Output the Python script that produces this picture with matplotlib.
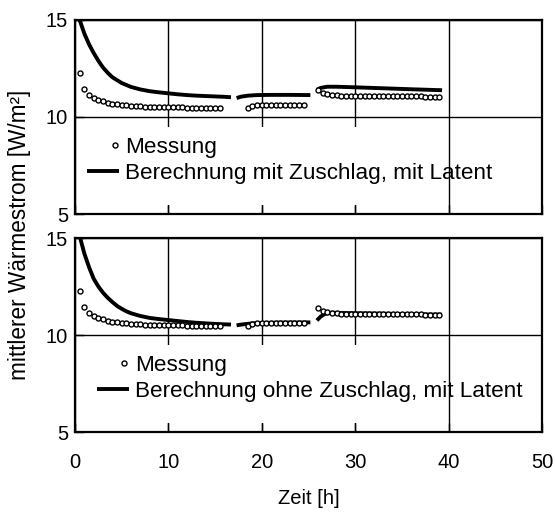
import matplotlib
matplotlib.use("Agg")
import matplotlib.pyplot as plt
from matplotlib.legend_handler import HandlerLine2D
from matplotlib.patches import Rectangle

plt.rcParams['font.family'] = ['Liberation Sans', 'DejaVu Sans']

# Messung (same measurement in both panels), three segments
mess_t1 = [0.5, 1.0, 1.5, 2.0, 2.5, 3.0, 3.5, 4.0, 4.5, 5.0, 5.5, 6.0, 6.5, 7.0, 7.5, 8.0,
           8.5, 9.0, 9.5, 10.0, 10.5, 11.0, 11.5, 12.0, 12.5, 13.0, 13.5, 14.0, 14.5, 15.0, 15.5]
mess_y1 = [12.25, 11.45, 11.15, 10.98, 10.88, 10.80, 10.74, 10.69, 10.65, 10.62, 10.60, 10.58,
           10.56, 10.55, 10.54, 10.53, 10.52, 10.51, 10.51, 10.50, 10.50, 10.49, 10.49, 10.48,
           10.48, 10.47, 10.47, 10.47, 10.46, 10.46, 10.46]
mess_t2 = [18.5, 19.0, 19.5, 20.0, 20.5, 21.0, 21.5, 22.0, 22.5, 23.0, 23.5, 24.0, 24.5]
mess_y2 = [10.48, 10.55, 10.60, 10.62, 10.63, 10.64, 10.64, 10.64, 10.64, 10.64, 10.64, 10.64, 10.64]
mess_t3 = [26.0, 26.5, 27.0, 27.5, 28.0, 28.5, 29.0, 29.5, 30.0, 30.5, 31.0, 31.5, 32.0, 32.5,
           33.0, 33.5, 34.0, 34.5, 35.0, 35.5, 36.0, 36.5, 37.0, 37.5, 38.0, 38.5, 39.0]
mess_y3 = [11.40, 11.25, 11.17, 11.13, 11.11, 11.10, 11.10, 11.10, 11.09, 11.09, 11.09, 11.08,
           11.08, 11.08, 11.08, 11.07, 11.07, 11.07, 11.07, 11.06, 11.06, 11.06, 11.06, 11.05,
           11.05, 11.05, 11.05]

# Berechnung mit Zuschlag, mit Latent (top)
mit_t1 = [0.3, 0.5, 1.0, 1.5, 2.0, 2.5, 3.0, 3.5, 4.0, 5.0, 6.0, 7.0, 8.0, 9.0, 10.0, 11.0,
          12.0, 13.0, 14.0, 15.0, 16.0, 16.7]
mit_y1 = [15.4, 15.0, 14.3, 13.75, 13.3, 12.9, 12.55, 12.28, 12.05, 11.75, 11.55, 11.42, 11.33,
          11.27, 11.22, 11.17, 11.13, 11.10, 11.08, 11.06, 11.04, 11.02]
mit_t2 = [17.3, 17.8, 18.5, 19.5, 21.0, 23.0, 25.2]
mit_y2 = [10.98, 11.05, 11.10, 11.13, 11.14, 11.14, 11.13]
mit_t3 = [25.9, 26.3, 27.0, 28.0, 30.0, 33.0, 36.0, 39.3]
mit_y3 = [11.40, 11.50, 11.56, 11.56, 11.53, 11.48, 11.43, 11.38]

# Berechnung ohne Zuschlag, mit Latent (bottom)
ohne_t1 = [0.4, 0.5, 1.0, 1.5, 2.0, 2.5, 3.0, 3.5, 4.0, 4.5, 5.0, 5.5, 6.0, 7.0, 8.0, 9.0,
           10.0, 11.0, 12.0, 13.0, 14.0, 15.0, 16.0, 16.7]
ohne_y1 = [15.3, 15.1, 14.2, 13.5, 12.9, 12.5, 12.18, 11.92, 11.70, 11.50, 11.35, 11.22, 11.12,
           10.98, 10.88, 10.82, 10.77, 10.72, 10.67, 10.63, 10.60, 10.57, 10.55, 10.54]
ohne_t2 = [17.3, 18.0, 19.0, 20.0, 22.0, 25.2]
ohne_y2 = [10.50, 10.55, 10.60, 10.62, 10.64, 10.65]
ohne_t3 = [25.9, 26.3, 26.8, 27.5, 29.0, 33.0, 36.0, 39.3]
ohne_y3 = [10.75, 10.95, 11.10, 11.15, 11.13, 11.10, 11.07, 11.05]

W, H = 556, 515
fig = plt.figure(figsize=(W / 100, H / 100), dpi=100)
ax_top = fig.add_axes([75 / W, 1 - 214 / H, 467 / W, 194 / H])
ax_bot = fig.add_axes([75 / W, 1 - 432 / H, 467 / W, 194 / H])

panels = [
    (ax_top, [(mit_t1, mit_y1), (mit_t2, mit_y2), (mit_t3, mit_y3)],
     'Berechnung mit Zuschlag, mit Latent', 0.017),
    (ax_bot, [(ohne_t1, ohne_y1), (ohne_t2, ohne_y2), (ohne_t3, ohne_y3)],
     'Berechnung ohne Zuschlag, mit Latent', 0.038),
]

for ax, calc, label, lx in panels:
    line = None
    for t, y in calc:
        line, = ax.plot(t, y, color='black', lw=2.8, solid_capstyle='butt', zorder=3)
    pts = None
    for t, y in [(mess_t1, mess_y1), (mess_t2, mess_y2), (mess_t3, mess_y3)]:
        pts, = ax.plot(t, y, ls='none', marker='o', ms=3.6, mfc='white', mec='black',
                       mew=1.0, zorder=4)
    ax.set_xlim(0, 50)
    ax.set_ylim(5, 15)
    ax.set_xticks([0, 10, 20, 30, 40, 50])
    ax.set_yticks([5, 10, 15])
    ax.grid(True, color='black', lw=1.0, zorder=1)
    ax.set_axisbelow(True)
    ax.tick_params(direction='in', length=6.5, width=1.0, labelsize=14.5, pad=5,
                   top=False, right=False)
    ax.tick_params(axis='x', pad=15)
    for s in ax.spines.values():
        s.set_linewidth(1.6)
    # white background behind the legend, covering the grid
    ax.add_patch(Rectangle((0.004, 0.046), 0.70, 0.40, transform=ax.transAxes,
                           facecolor='white', edgecolor='none', zorder=1.5))
    leg = ax.legend([pts, line], ['Messung', label], loc='upper left',
                    bbox_to_anchor=(lx, 0.42), fontsize=16.2, frameon=False,
                    handlelength=1.42, handletextpad=0.25, labelspacing=0.23,
                    borderpad=0.2, borderaxespad=0,
                    handler_map={pts: HandlerLine2D(xpad=1.0)})

ax_top.tick_params(labelbottom=False)
ax_bot.set_xlabel('Zeit [h]', fontsize=14.5, labelpad=12)
fig.text(20 / W, 1 - 235 / H, 'mittlerer Wärmestrom [W/m²]', rotation=90,
         ha='center', va='center', fontsize=16.3)

fig.savefig('out.png', dpi=100)
